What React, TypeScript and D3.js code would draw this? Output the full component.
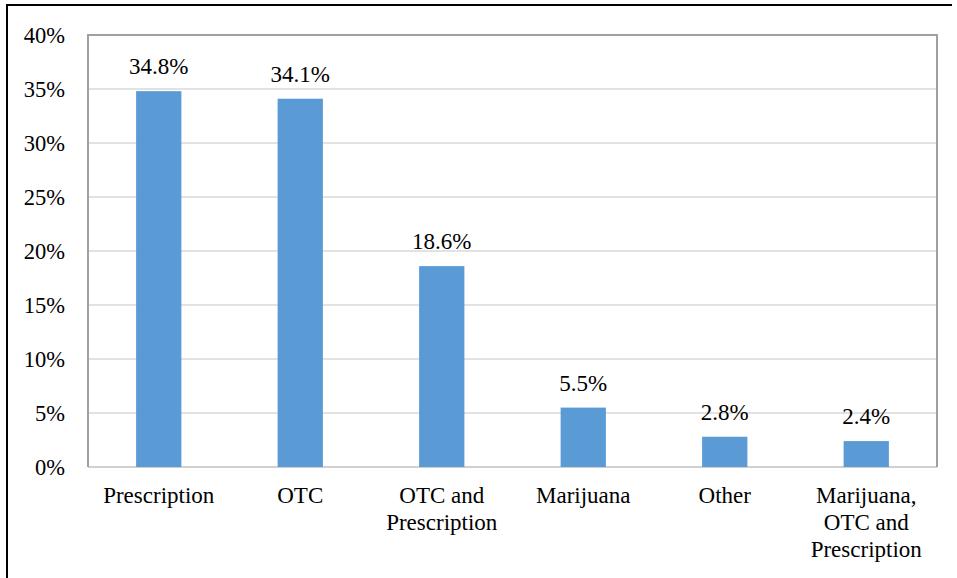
import React, { useEffect, useRef } from 'react';
import * as d3 from 'd3';

const categories = [
  ['Prescription'],
  ['OTC'],
  ['OTC and', 'Prescription'],
  ['Marijuana'],
  ['Other'],
  ['Marijuana,', 'OTC and', 'Prescription'],
];
const values = [34.8, 34.1, 18.6, 5.5, 2.8, 2.4];
const yTicks = [0, 5, 10, 15, 20, 25, 30, 35, 40];

const App = () => {
  const svgRef = useRef<SVGSVGElement | null>(null);

  useEffect(() => {
    const width = 957;
    const height = 578;
    const margin = { top: 35, right: 20, bottom: 111, left: 88 };
    const font = 'Times New Roman, Liberation Serif, Tinos, Nimbus Roman, DejaVu Serif, serif';

    const svg = d3.select(svgRef.current);
    svg.selectAll('*').remove();

    svg.append('rect').attr('width', width).attr('height', height).attr('fill', '#fff');

    // outer border (only top and left visible in the picture)
    svg.append('path')
      .attr('d', `M7,${height} V5 H952`)
      .attr('fill', 'none')
      .attr('stroke', '#000')
      .attr('stroke-width', 2);

    const keys = categories.map((c, i) => String(i));
    const x = d3.scaleBand()
      .domain(keys)
      .range([margin.left, width - margin.right])
      .padding(0);

    const y = d3.scaleLinear()
      .domain([0, 40])
      .range([height - margin.bottom, margin.top]);

    // gridlines
    svg.append('g')
      .selectAll('line')
      .data(yTicks.filter(t => t > 0 && t < 40))
      .enter()
      .append('line')
      .attr('x1', margin.left)
      .attr('x2', width - margin.right)
      .attr('y1', d => y(d))
      .attr('y2', d => y(d))
      .attr('stroke', '#d9d9d9')
      .attr('stroke-width', 1.5);

    // baseline
    svg.append('line')
      .attr('x1', margin.left)
      .attr('x2', width - margin.right)
      .attr('y1', y(0))
      .attr('y2', y(0))
      .attr('stroke', '#d0d0d0')
      .attr('stroke-width', 2);

    // plot frame: left, top, right
    svg.append('path')
      .attr('d', `M${margin.left},${y(0)} V${y(40)} H${width - margin.right} V${y(0)}`)
      .attr('fill', 'none')
      .attr('stroke', '#a0a0a0')
      .attr('stroke-width', 2);

    const texts = svg.append('g').style('font-family', font).attr('fill', '#000');

    // y tick labels
    texts.append('g')
      .selectAll('text')
      .data(yTicks)
      .enter()
      .append('text')
      .attr('x', 65)
      .attr('y', d => y(d))
      .attr('dy', '0.35em')
      .attr('text-anchor', 'end')
      .attr('font-size', 22.5)
      .text(d => `${d}%`);

    const barW = x.bandwidth() * 0.32;

    // bars
    svg.append('g')
      .selectAll('rect')
      .data(values)
      .enter()
      .append('rect')
      .attr('x', (d, i) => x(keys[i])! + x.bandwidth() / 2 - barW / 2)
      .attr('y', d => y(d))
      .attr('width', barW)
      .attr('height', d => y(0) - y(d))
      .attr('fill', '#5b9bd5');

    // data labels
    texts.append('g')
      .selectAll('text')
      .data(values)
      .enter()
      .append('text')
      .attr('x', (d, i) => x(keys[i])! + x.bandwidth() / 2)
      .attr('y', d => y(d) - 17)
      .attr('text-anchor', 'middle')
      .attr('font-size', 23)
      .text(d => `${d.toFixed(1)}%`);

    // category labels
    const cat = texts.append('g')
      .selectAll('text')
      .data(categories)
      .enter()
      .append('text')
      .attr('x', (d, i) => x(keys[i])! + x.bandwidth() / 2)
      .attr('y', 503)
      .attr('text-anchor', 'middle')
      .attr('font-size', 23);

    cat.selectAll('tspan')
      .data((d, i) => d.map(line => ({ line, cx: x(keys[i])! + x.bandwidth() / 2 })))
      .enter()
      .append('tspan')
      .attr('x', d => d.cx)
      .attr('dy', (d, j) => (j === 0 ? 0 : 27))
      .text(d => d.line);
  }, []);

  return (
    <svg
      ref={svgRef}
      width={957}
      height={578}
      style={{ position: 'absolute', left: 0, top: 0, display: 'block' }}
    />
  );
};

export default App;
